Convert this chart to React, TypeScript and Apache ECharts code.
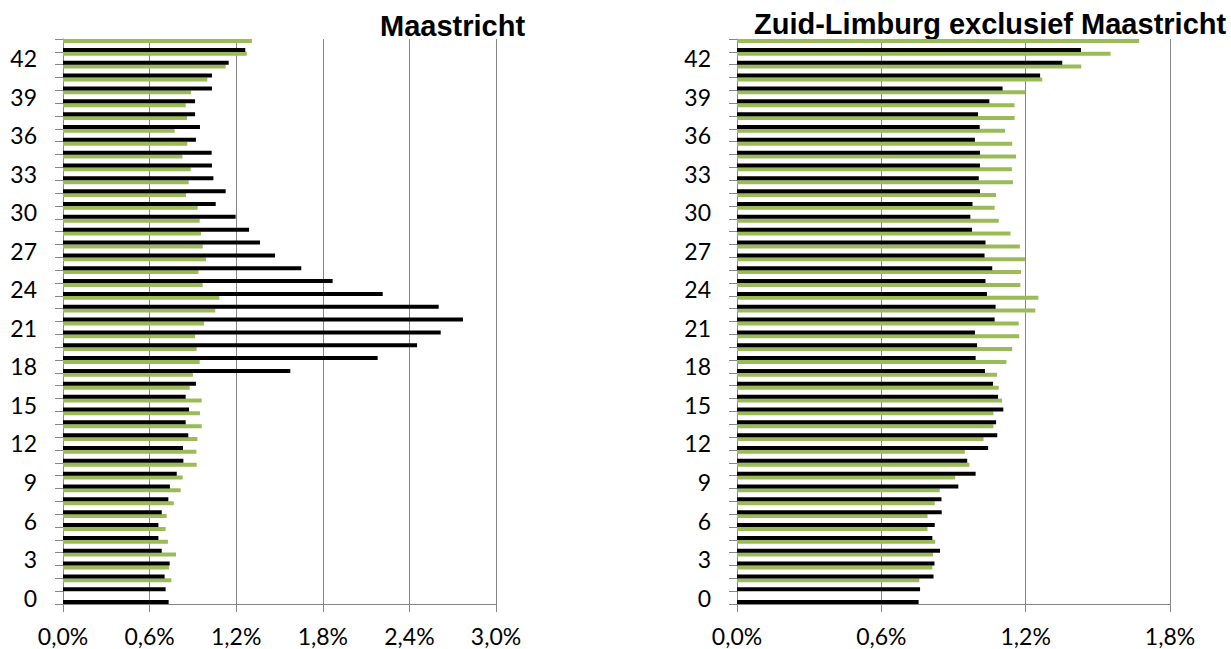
import React, { useEffect, useRef } from "react";
import * as echarts from "echarts";

const categories = [
  "0","1","2","3","4","5","6","7","8","9","10","11","12","13","14","15","16","17","18","19","20","21",
  "22","23","24","25","26","27","28","29","30","31","32","33","34","35","36","37","38","39","40","41","42","43",
];

// Maastricht (percent)
const maastrichtBlack = [
  0.732,0.711,0.704,0.739,0.684,0.661,0.661,0.684,0.730,0.741,0.788,0.834,0.831,0.868,0.850,0.873,0.850,0.921,
  1.575,2.180,2.453,2.617,2.771,2.603,2.215,1.868,1.651,1.469,1.365,1.289,1.196,1.058,1.127,1.042,1.032,1.030,
  0.921,0.949,0.915,0.915,1.032,1.032,1.148,1.263,
];
const maastrichtGreen = [
  null,0.751,0.734,0.783,0.727,0.711,0.718,0.767,0.815,0.829,0.926,0.924,0.931,0.961,0.949,0.961,0.878,0.901,
  0.947,0.926,0.915,0.977,1.055,1.083,0.968,0.938,0.991,0.968,0.956,0.947,0.933,0.852,0.871,0.885,0.827,0.861,
  0.774,0.859,0.850,0.887,1.000,1.127,1.273,1.309,
];

// Zuid-Limburg exclusief Maastricht (percent)
const zlBlack = [
  0.755,0.761,0.817,0.821,0.844,0.812,0.822,0.851,0.850,0.920,0.992,0.957,1.044,1.082,1.077,1.107,1.085,1.064,
  1.031,0.992,0.998,0.989,1.071,1.075,1.039,1.033,1.061,1.029,1.033,0.977,0.970,0.979,1.010,1.005,1.010,1.010,
  0.989,1.009,1.002,1.049,1.104,1.260,1.352,1.430,
];
const zlGreen = [
  null,0.758,0.812,0.815,0.824,0.792,0.792,0.822,0.843,0.907,0.966,0.947,1.025,1.066,1.066,1.102,1.088,1.081,
  1.120,1.144,1.173,1.171,1.240,1.253,1.178,1.181,1.197,1.176,1.137,1.088,1.071,1.077,1.147,1.143,1.160,1.144,
  1.114,1.154,1.154,1.198,1.269,1.431,1.553,1.672,
];

const titles = ["Maastricht", "Zuid-Limburg exclusief Maastricht"];
const xMax = [3.0, 1.8];
const xStep = 0.6;

const GRAY = "#868686";
const GREEN = "#9BBB59";
const LABEL_FONT = "Lato";

function fmt(v: number) {
  return v.toFixed(1).replace(".", ",") + "%";
}

export default function App() {
  const ref = useRef<HTMLDivElement>(null);
  useEffect(() => {
    if (!ref.current) return;
    const chart = echarts.init(ref.current, undefined, { renderer: "svg" });
    const grids = [
      { left: 63, top: 39, width: 433, height: 565 },
      { left: 737, top: 39, width: 433, height: 565 },
    ];
    const xAxes = [0, 1].map((i) => ({
      type: "value",
      gridIndex: i,
      min: 0,
      max: xMax[i],
      interval: xStep,
      axisLine: { show: true, lineStyle: { color: GRAY, width: 1 } },
      axisTick: { show: true, length: 8, lineStyle: { color: GRAY } },
      splitLine: { show: true, lineStyle: { color: GRAY, width: 1 } },
      axisLabel: {
        formatter: (v: number) => fmt(v),
        color: "#000",
        fontFamily: LABEL_FONT,
        fontSize: 23,
        margin: 20,
      },
    }));
    const yAxes = [0, 1].map((i) => ({
      type: "category",
      gridIndex: i,
      data: categories,
      boundaryGap: true,
      axisLine: { show: true, lineStyle: { color: GRAY, width: 1 } },
      axisTick: { show: true, interval: 0, length: 8, lineStyle: { color: GRAY } },
      splitLine: { show: false },
      axisLabel: {
        interval: 2,
        color: "#000",
        fontFamily: LABEL_FONT,
        fontSize: 23,
        margin: 26,
      },
    }));
    const mk = (name: string, data: any[], color: string, idx: number) => ({
      name,
      type: "bar",
      xAxisIndex: idx,
      yAxisIndex: idx,
      data,
      barWidth: 4,
      barGap: "125%",
      itemStyle: { color },
      silent: true,
    });
    chart.setOption({
      animation: false,
      grid: grids,
      xAxis: xAxes,
      yAxis: yAxes,
      series: [
        mk("green0", maastrichtGreen, GREEN, 0),
        mk("black0", maastrichtBlack, "#000000", 0),
        mk("green1", zlGreen, GREEN, 1),
        mk("black1", zlBlack, "#000000", 1),
      ],
      graphic: [
        {
          type: "text",
          x: 380,
          y: 26,
          style: {
            text: titles[0],
            font: 'bold 29px "Liberation Sans"',
            fill: "#000",
            align: "left",
            verticalAlign: "middle",
          },
        },
        {
          type: "text",
          x: 754,
          y: 23.5,
          style: {
            text: titles[1],
            font: 'bold 29px "Liberation Sans"',
            fill: "#000",
            align: "left",
            verticalAlign: "middle",
          },
        },
      ],
    });
    return () => chart.dispose();
  }, []);
  return (
    <div
      ref={ref}
      style={{ position: "fixed", left: 0, top: 0, width: 1231, height: 649, background: "#fff" }}
    />
  );
}
